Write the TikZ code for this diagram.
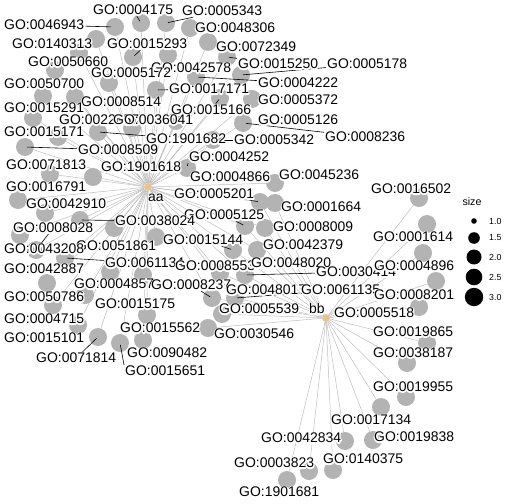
\documentclass[tikz,border=0pt]{standalone}
\usepackage{fontspec}
\setmainfont{Liberation Sans}
\definecolor{circ}{RGB}{179,179,179}
\definecolor{edgec}{RGB}{190,190,190}
\definecolor{hubc}{RGB}{229,196,148}
\pgfdeclarelayer{edges}
\pgfdeclarelayer{circs}
\pgfdeclarelayer{leads}
\pgfsetlayers{edges,circs,leads,main}
\newcommand\halo[1]{\makebox[0pt][l]{\special{pdf:code q 1 1 1 RG 1 1 1 rg 2 Tr 2.6 w 1 J 1 j}#1\special{pdf:code Q}}#1}
\tikzset{
  gc/.style={circle, fill=circ, draw=none, minimum size=18bp, inner sep=0pt},
  hubnode/.style={circle, fill=hubc, draw=none, minimum size=8bp, inner sep=0pt},
  lab/.style={anchor=west, inner sep=1bp, font=\fontsize{14}{16}\selectfont},
  edge/.style={draw=edgec, line width=0.5bp},
  lead/.style={draw=black, line width=0.6bp},
  legdot/.style={circle, fill=black, draw=none, inner sep=0pt},
  legtxt/.style={anchor=west, inner sep=0pt, font=\fontsize{8.8}{10}\selectfont},
}
\begin{document}
\begin{tikzpicture}[x=1bp,y=-1bp]
\useasboundingbox (0,0) rectangle (504,504);
\begin{pgfonlayer}{circs}
% aa cluster, upper
\node[gc] (c1) at (115,27) {};
\node[gc] (c2) at (141,23) {};
\node[gc] (c3) at (166,23) {};
\node[gc] (c4) at (190,28) {};
\node[gc] (c5) at (208,42) {};
\node[gc] (c6) at (96,39) {};
\node[gc] (c7) at (133,57) {};
\node[gc] (c8) at (79,53) {};
\node[gc] (c9) at (55,70) {};
\node[gc] (c10) at (109,83) {};
\node[gc] (c11) at (156,90) {};
\node[gc] (c12) at (196,77) {};
\node[gc] (c13) at (241,75) {};
\node[gc] (c14) at (227,57) {};
\node[gc] (c15) at (168,55) {};
\node[gc] (c16) at (43,96) {};
\node[gc] (c17) at (75,97) {};
\node[gc] (c18) at (33,118) {};
\node[gc] (c19) at (58,137) {};
\node[gc] (c20) at (98,132) {};
\node[gc] (c21) at (25,147) {};
\node[gc] (c22) at (132,128) {};
\node[gc] (c23) at (176,121) {};
\node[gc] (c24) at (220,98) {};
\node[gc] (c25) at (252,99) {};
\node[gc] (c26) at (243,123) {};
\node[gc] (c27) at (213,140) {};
\node[gc] (c28) at (187,168) {};
% aa cluster, left and lower
\node[gc] (d1) at (50,174) {};
\node[gc] (d2) at (93,177) {};
\node[gc] (d3) at (18,200) {};
\node[gc] (d4) at (45,213) {};
\node[gc] (d5) at (80,220) {};
\node[gc] (d6) at (114,228) {};
\node[gc] (d7) at (20,235) {};
\node[gc] (d8) at (36,250) {};
\node[gc] (d9) at (156,237) {};
\node[gc] (d10) at (65,258) {};
\node[gc] (d11) at (110,272) {};
\node[gc] (d13) at (47,283) {};
\node[gc] (d14) at (143,275) {};
\node[gc] (d15) at (53,305) {};
\node[gc] (d16) at (85,295) {};
\node[gc] (d17) at (147,315) {};
\node[gc] (d18) at (78,325) {};
\node[gc] (d19) at (98,337) {};
\node[gc] (d20) at (120,343) {};
\node[gc] (d21) at (143,340) {};
% middle
\node[gc] (m1) at (233,250) {};
\node[gc] (m2) at (245,226) {};
\node[gc] (m3) at (265,228) {};
\node[gc] (m4) at (257,250) {};
\node[gc] (m5) at (260,202) {};
\node[gc] (m6) at (275,203) {};
\node[gc] (m7) at (275,183) {};
\node[gc] (m8) at (245,275) {};
\node[gc] (m9) at (220,273) {};
\node[gc] (m10) at (212,298) {};
\node[gc] (m11) at (235,298) {};
\node[gc] (m12) at (222,314) {};
\node[gc] (m13) at (208,328) {};
% bb cluster
\node[gc] (b1) at (419,198) {};
\node[gc] (b2) at (427,224) {};
\node[gc] (b3) at (423,253) {};
\node[gc] (b4) at (436,281) {};
\node[gc] (b5) at (419,307) {};
\node[gc] (b6) at (427,343) {};
\node[gc] (b7) at (407,363) {};
\node[gc] (b8) at (406,397) {};
\node[gc] (b9) at (381,407) {};
\node[gc] (b10) at (373,440) {};
\node[gc] (b11) at (345,441) {};
\node[gc] (b12) at (333,470) {};
\node[gc] (b13) at (309,471) {};
\node[gc] (b14) at (287,480) {};
% hubs
\node[hubnode] (aa) at (148,187) {};
\node[hubnode] (bb) at (326,318) {};
\end{pgfonlayer}

% labels
\node[lab] (t1) at (92,10) {\halo{GO:0004175}};
\node[lab] (t2) at (181,11) {\halo{GO:0005343}};
\node[lab] (t3) at (3,25) {\halo{GO:0046943}};
\node[lab] (t4) at (194,28) {\halo{GO:0048306}};
\node[lab] (t5) at (11,44) {\halo{GO:0140313}};
\node[lab] (t6) at (106,44) {\halo{GO:0015293}};
\node[lab] (t7) at (215,47) {\halo{GO:0072349}};
\node[lab] (t8) at (27,62) {\halo{GO:0050660}};
\node[lab] (t9) at (150,68) {\halo{GO:0042578}};
\node[lab] (t10) at (237,64) {\halo{GO:0015250}};
\node[lab] (t11) at (326,64) {\halo{GO:0005178}};
\node[lab] (t12) at (90,73) {\halo{GO:0005172}};
\node[lab] (t13) at (3,84) {\halo{GO:0050700}};
\node[lab] (t14) at (257,83) {\halo{GO:0004222}};
\node[lab] (t15) at (168,89) {\halo{GO:0017171}};
\node[lab] (t16) at (80,102) {\halo{GO:0008514}};
\node[lab] (t17) at (257,100) {\halo{GO:0005372}};
\node[lab] (t18) at (3,108) {\halo{GO:0015291}};
\node[lab] (t19) at (170,110) {\halo{GO:0015166}};
\node[lab] (t20) at (58,120) {\halo{GO:0022857}};
\node[lab] (t21) at (112,120) {\halo{GO:0036041}};
\node[lab] (t22) at (257,120) {\halo{GO:0005126}};
\node[lab] (t23) at (3,132) {\halo{GO:0015171}};
\node[lab] (t24) at (145,139) {\halo{GO:1901682}};
\node[lab] (t25) at (233,140) {\halo{GO:0005342}};
\node[lab] (t26) at (324,137) {\halo{GO:0008236}};
\node[lab] (t27) at (77,150) {\halo{GO:0008509}};
\node[lab] (t28) at (188,157) {\halo{GO:0004252}};
\node[lab] (t29) at (5,165) {\halo{GO:0071813}};
\node[lab] (t30) at (100,167) {\halo{GO:1901618}};
\node[lab] (t31) at (189,177) {\halo{GO:0004866}};
\node[lab] (t32) at (278,175) {\halo{GO:0045236}};
\node[lab] (t33) at (5,187) {\halo{GO:0016791}};
\node[lab] (t34) at (173,194) {\halo{GO:0005201}};
\node[lab] (t35) at (147,198) {\halo{aa}};
\node[lab] (t36) at (280,207) {\halo{GO:0001664}};
\node[lab] (t37) at (25,204) {\halo{GO:0042910}};
\node[lab] (t38) at (183,215) {\halo{GO:0005125}};
\node[lab] (t39) at (272,227) {\halo{GO:0008009}};
\node[lab] (t40) at (12,228) {\halo{GO:0008028}};
\node[lab] (t41) at (114,221) {\halo{GO:0038024}};
\node[lab] (t42) at (162,240) {\halo{GO:0015144}};
\node[lab] (t43) at (262,245) {\halo{GO:0042379}};
\node[lab] (t44) at (75,246) {\halo{GO:0051861}};
\node[lab] (t45) at (3,249) {\halo{GO:0043208}};
\node[lab] (t46) at (104,263) {\halo{GO:0061134}};
\node[lab] (t47) at (3,269) {\halo{GO:0042887}};
\node[lab] (t48) at (174,266) {\halo{GO:0008553}};
\node[lab] (t49) at (250,263) {\halo{GO:0048020}};
\node[lab] (t50) at (315,272) {\halo{GO:0030414}};
\node[lab] (t51) at (73,284) {\halo{GO:0004857}};
\node[lab] (t52) at (150,285) {\halo{GO:0008237}};
\node[lab] (t53) at (225,290) {\halo{GO:0048017}};
\node[lab] (t54) at (300,290) {\halo{GO:0061135}};
\node[lab] (t55) at (3,297) {\halo{GO:0050786}};
\node[lab] (t56) at (94,304) {\halo{GO:0015175}};
\node[lab] (t57) at (218,309) {\halo{GO:0005539}};
\node[lab] (t58) at (308,309) {\halo{bb}};
\node[lab] (t59) at (333,313) {\halo{GO:0005518}};
\node[lab] (t60) at (213,334) {\halo{GO:0030546}};
\node[lab] (t61) at (3,319) {\halo{GO:0004715}};
\node[lab] (t62) at (119,328) {\halo{GO:0015562}};
\node[lab] (t63) at (3,338) {\halo{GO:0015101}};
\node[lab] (t64) at (35,358) {\halo{GO:0071814}};
\node[lab] (t65) at (126,353) {\halo{GO:0090482}};
\node[lab] (t66) at (124,371) {\halo{GO:0015651}};
\node[lab] (t67) at (370,189) {\halo{GO:0016502}};
\node[lab] (t68) at (372,237) {\halo{GO:0001614}};
\node[lab] (t69) at (373,266) {\halo{GO:0004896}};
\node[lab] (t70) at (373,295) {\halo{GO:0008201}};
\node[lab] (t71) at (372,332) {\halo{GO:0019865}};
\node[lab] (t72) at (372,353) {\halo{GO:0038187}};
\node[lab] (t73) at (372,387) {\halo{GO:0019955}};
\node[lab] (t74) at (330,420) {\halo{GO:0017134}};
\node[lab] (t75) at (373,437) {\halo{GO:0019838}};
\node[lab] (t76) at (260,438) {\halo{GO:0042834}};
\node[lab] (t77) at (322,459) {\halo{GO:0140375}};
\node[lab] (t78) at (233,463) {\halo{GO:0003823}};
\node[lab] (t79) at (238,492) {\halo{GO:1901681}};

% legend
\node[anchor=center, inner sep=0pt, font=\fontsize{10.7}{12}\selectfont] (sz) at (472,202) {size};
\node[legdot, minimum size=5.6bp] (s1) at (474,221) {};
\node[legdot, minimum size=11.6bp] (s2) at (474,238) {};
\node[legdot, minimum size=15bp] (s3) at (474,257) {};
\node[legdot, minimum size=16.6bp] (s4) at (474,277) {};
\node[legdot, minimum size=18.4bp] (s5) at (474,297) {};
\node[legtxt] (v1) at (489,221) {1.0};
\node[legtxt] (v2) at (489,238) {1.5};
\node[legtxt] (v3) at (489,257) {2.0};
\node[legtxt] (v4) at (489,277) {2.5};
\node[legtxt] (v5) at (489,297) {3.0};

% edges
\begin{pgfonlayer}{edges}
\foreach \n in {c1,c2,c3,c4,c5,c6,c7,c8,c9,c10,c11,c12,c13,c14,c15,c16,c17,c18,c19,c20,c21,c22,c23,c24,c25,c26,c27,c28,d1,d2,d3,d4,d5,d6,d7,d8,d9,d10,d11,d13,d14,d15,d16,d17,d18,d19,d20,d21,m1,m2,m3,m4,m5,m6,m7,m8,m9,m10,m11}
  \draw[edge] (aa) -- (\n);
\foreach \n in {m1,m2,m3,m4,m5,m6,m8,m9,m10,m11,m12,m13,b1,b2,b3,b4,b5,b6,b7,b8,b9,b10,b11,b12,b13,b14}
  \draw[edge] (bb) -- (\n);
\end{pgfonlayer}

% leader lines
\begin{pgfonlayer}{leads}
\draw[lead, shorten >=4bp] (t3) -- (c1.center);
\draw[lead, shorten >=2bp] (t1) -- (c2.center);
\draw[lead, shorten >=2bp] (t2) -- (c3.center);
\draw[lead, shorten >=2bp] (t6) -- (c7.center);
\draw[lead, shorten >=2bp] (t10) -- (c14.center);
\draw[lead, shorten >=2bp] (t14) -- (c12.center);
\draw[lead, shorten >=2bp] (t11) -- (c13.center);
\draw[lead, shorten >=2bp] (t15) -- (c11.center);
\draw[lead, shorten >=2bp] (t19) -- (c24.center);
\draw[lead, shorten >=3bp] (t26) -- (c26.center);
\draw[lead, shorten >=2bp] (t25) -- (c27.center);
\draw[lead, shorten >=2bp] (t24) -- (c20.center);
\draw[lead, shorten >=2bp] (t27) -- (c21.center);
\draw[lead, shorten >=2bp] (t28.south west) -- (c28.center);
\draw[lead, shorten >=2bp] (t41) -- (d5.center);
\draw[lead, shorten >=2bp] (t46) -- (d10.center);
\draw[lead, shorten >=2bp] (t40) -- (d8.center);
\draw[lead, shorten >=2bp] (t34) -- (m5.center);
\draw[lead, shorten >=2bp] (t38) -- (m2.center);
\draw[lead, shorten >=2bp] (t42) -- (m1.center);
\draw[lead, shorten >=2bp] (t50) -- (m8.center);
\draw[lead, shorten >=2bp] (t52) -- (m10.center);
\draw[lead, shorten >=2bp] (t54) -- (m11.center);
\draw[lead, shorten >=2bp] (t64) -- (d19.center);
\draw[lead, shorten >=2bp] (t66.north west) -- (d20.center);
\end{pgfonlayer}
\end{tikzpicture}
\end{document}
